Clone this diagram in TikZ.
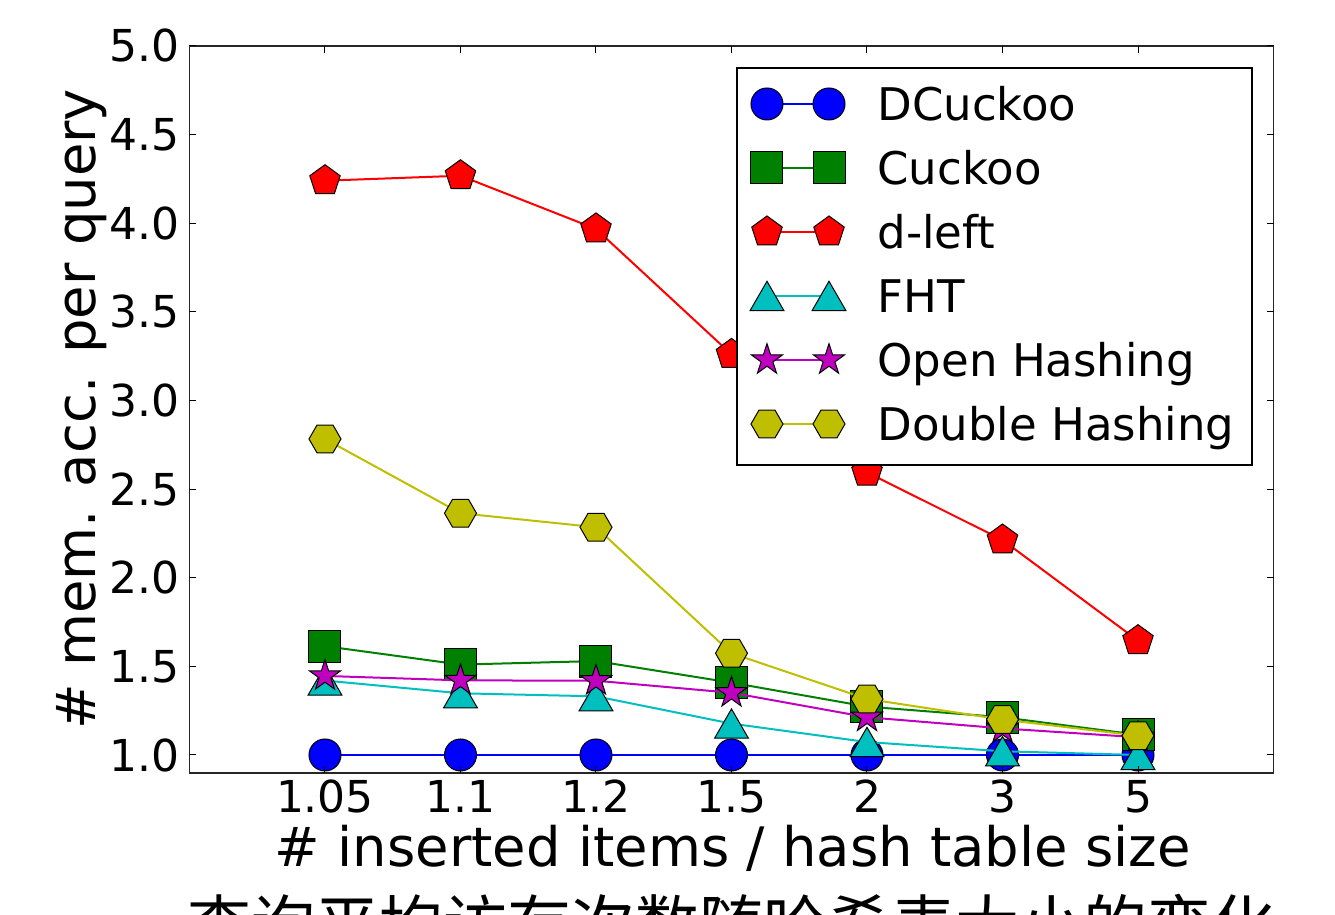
\documentclass[tikz,border=0pt]{standalone}
\usepackage{fontspec}
\setmainfont{DejaVu Sans}
\newfontfamily\zhfont{Noto Sans CJK SC}
\usetikzlibrary{shapes.geometric}

\definecolor{mplblue}{rgb}{0,0,1}
\definecolor{mplgreen}{rgb}{0,0.5,0}
\definecolor{mplred}{rgb}{1,0,0}
\definecolor{mplcyan}{rgb}{0,0.75,0.75}
\definecolor{mplmagenta}{rgb}{0.75,0,0.75}
\definecolor{mplyellow}{rgb}{0.75,0.75,0}

\begin{document}
\begin{tikzpicture}[x=67.75pt,y=88.625pt,
tickfont/.style={font=\fontsize{22}{26}\selectfont,inner sep=0pt},
legfont/.style={font=\fontsize{22.5}{27}\selectfont,inner sep=0pt},
labelfont/.style={font=\fontsize{27.2}{32}\selectfont,inner sep=0pt},
series/.style={line width=1pt,line join=round},
mkbase/.style={draw=black,line width=0.5pt,inner sep=0pt,outer sep=0pt},
mkcirc/.style={mkbase,circle,minimum size=16pt},
mksq/.style={mkbase,rectangle,minimum size=16pt},
mkpent/.style={mkbase,regular polygon,regular polygon sides=5,minimum size=16pt},
mktri/.style={mkbase,regular polygon,regular polygon sides=3,minimum size=19.5pt,yshift=-2.4pt},
mkstar/.style={mkbase,star,star points=5,star point ratio=2.618,minimum size=16.3pt},
mkhex/.style={mkbase,regular polygon,regular polygon sides=6,minimum size=16pt}]
\useasboundingbox (-2.3985,0.0973) rectangle (7.4539,5.2595);
\clip (-2.3985,0.0973) rectangle (7.4539,5.2595);
\fill[white] (-2.3985,0.0973) rectangle (7.4539,5.2595);

\foreach \sid/\col/\shape/\vals in {
dc/mplblue/mkcirc/{1,1,1,1,1,1,1},
ck/mplgreen/mksq/{1.614,1.51,1.53,1.408,1.273,1.213,1.114},
dl/mplred/mkpent/{4.24,4.268,3.968,3.26,2.595,2.213,1.645},
fht/mplcyan/mktri/{1.42,1.348,1.331,1.177,1.073,1.021,1.0},
oh/mplmagenta/mkstar/{1.446,1.421,1.419,1.351,1.213,1.15,1.10},
dh/mplyellow/mkhex/{2.783,2.364,2.285,1.574,1.316,1.20,1.109}}{
  \foreach \v [count=\i from 0] in \vals {\coordinate (\sid\i) at (\i,\v);}
  \draw[series,\col] (\sid0) \foreach \i in {1,...,6}{ -- (\sid\i)};
  \foreach \i in {0,...,6} \node[\shape,fill=\col] (\sid m\i) at (\sid\i) {};
}

\draw[line width=0.8pt,black!85] (-1,0.9) rectangle (7,5);
\foreach \t [count=\i from 0] in {1.05,1.1,1.2,1.5,2,3,5}{
  \draw[line width=0.5pt] (\i,0.9) -- ++(0pt,3.5pt) (\i,5) -- ++(0pt,-3.5pt);
  \node[tickfont,anchor=base] (xt\i) at (\i,0.6745) {\t};
}
\foreach \t [count=\k] in {1.0,1.5,2.0,2.5,3.0,3.5,4.0,4.5,5.0}{
  \draw[line width=0.5pt] (-1,\t) -- ++(3.5pt,0pt) (7,\t) -- ++(-3.5pt,0pt);
  \node[tickfont,anchor=east,xshift=-5pt] (yt\k) at (-1,\t) {\t};
}
\node[labelfont,anchor=base] (xlab) at (3.01,0.370) {\# inserted items / hash table size};
\node[labelfont,anchor=base,rotate=90] (ylab) at (-1.697,2.95) {\# mem. acc. per query};

\draw[line width=0.8pt,fill=white] (3.0406,2.636) rectangle (6.8413,4.876);
\foreach \sid/\col/\shape/\name [count=\k from 0] in {
dc/mplblue/mkcirc/DCuckoo,
ck/mplgreen/mksq/Cuckoo,
dl/mplred/mkpent/d-left,
fht/mplcyan/mktri/FHT,
oh/mplmagenta/mkstar/Open Hashing,
dh/mplyellow/mkhex/Double Hashing}{
  \coordinate (lg\sid a) at (3.262,4.6728-0.36107*\k);
  \coordinate (lg\sid b) at (3.7196,4.6728-0.36107*\k);
  \draw[series,\col] (lg\sid a) -- (lg\sid b);
  \node[\shape,fill=\col] (lg\sid ma) at (lg\sid a) {};
  \node[\shape,fill=\col] (lg\sid mb) at (lg\sid b) {};
  \node[legfont,anchor=base west,yshift=-8.2pt] (lt\sid) at (4.075,4.6728-0.36107*\k) {\name};
}

\node[font=\zhfont\fontsize{32}{36}\selectfont,inner sep=0pt,anchor=base] (title) at (3,-0.09) {查询平均访存次数随哈希表大小的变化};
\end{tikzpicture}
\end{document}
